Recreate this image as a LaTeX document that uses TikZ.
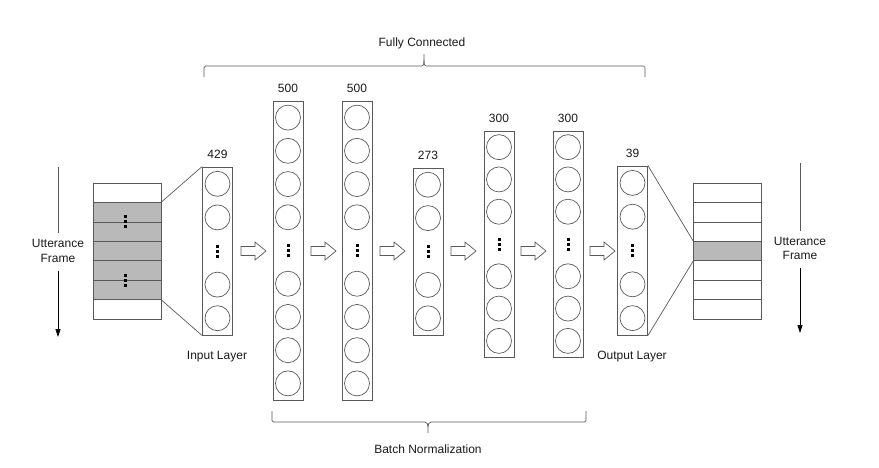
\documentclass[tikz,border=0pt]{standalone}
\usepackage{fontspec}
\setmainfont{Liberation Sans}
\usetikzlibrary{arrows.meta,calc}
\definecolor{linegray}{gray}{0.35}
\definecolor{rowgray}{RGB}{185,185,185}
\definecolor{txt}{gray}{0.1}
\begin{document}
\begin{tikzpicture}[x=1pt,y=-1pt,
  font=\fontsize{12}{14.5}\selectfont,
  layer/.style={draw=linegray, line width=0.9pt, minimum width=30pt, inner sep=0pt},
  neuron/.style={circle, draw=linegray, line width=0.7pt, minimum size=25pt, inner sep=0pt},
  lbl/.style={text=txt, inner sep=0pt},
  framerow/.style={draw=linegray, line width=0.7pt, minimum width=68pt, minimum height=19.43pt, inner sep=0pt},
  conn/.style={draw=linegray, line width=0.7pt},
  bracepath/.style={draw=linegray, line width=0.7pt, rounded corners=1.5pt},
  vdots/.pic={\foreach \d in {-5,0,5} \fill[black] (-1.5,\d-1.5) rectangle ++(3,3);},
  harrow/.pic={\draw[linegray, line width=0.7pt, fill=white] (0,-4.5) -- (14,-4.5) -- (14,-9) -- (25,0) -- (14,9) -- (14,4.5) -- (0,4.5) -- cycle;}
]
\useasboundingbox (0,0) rectangle (879,467);

% frame stacks
\foreach \i in {1,...,7}{
  \ifnum\i>1 \ifnum\i<7
    \node[framerow, fill=rowgray] (fl-\i) at (127,{183+(\i-0.5)*19.43}) {};
  \else
    \node[framerow] (fl-\i) at (127,{183+(\i-0.5)*19.43}) {};
  \fi\else
    \node[framerow] (fl-\i) at (127,{183+(\i-0.5)*19.43}) {};
  \fi
  \ifnum\i=4
    \node[framerow, fill=rowgray] (fr-\i) at (727.5,{183+(\i-0.5)*19.43}) {};
  \else
    \node[framerow] (fr-\i) at (727.5,{183+(\i-0.5)*19.43}) {};
  \fi
}
\pic at (125,221.5) {vdots};
\pic at (125,280) {vdots};

% layers
\foreach \nm/\cx/\tp/\bt/\ns/\lab in {in/217.5/167/335/5/429, a/288/101/400/9/500, b/357/101/400/9/500, c/428/168/335/5/273, d/499/131/357/7/300, e/568/131/357/7/300, o/632.5/166/335/5/39}{
  \pgfmathsetmacro{\cy}{(\tp+\bt)/2}
  \pgfmathsetmacro{\hh}{\bt-\tp}
  \pgfmathsetmacro{\slot}{\hh/\ns}
  \pgfmathtruncatemacro{\md}{(\ns+1)/2}
  \node[layer, minimum height=\hh pt] (\nm) at (\cx,\cy) {};
  \node[lbl, anchor=base] (\nm-lab) at (\cx,\tp-8.5) {\lab};
  \foreach \i in {1,...,\ns}{
    \ifnum\i=\md
      \pic at (\cx,{\tp+(\i-0.5)*\slot}) {vdots};
    \else
      \node[neuron] (\nm-\i) at (\cx,{\tp+(\i-0.5)*\slot}) {};
    \fi
  }
}

% fan-in / fan-out lines
\draw[conn] (fl-2.north east) -- (in.north west);
\draw[conn] (fl-6.south east) -- (in.south west);
\draw[conn] (o.north east) -- (fr-4.north west);
\draw[conn] (o.south east) -- (fr-4.south west);

% hollow arrows
\foreach \x in {241,311,380,451,521,590} \pic at (\x,251) {harrow};

% layer names
\node[lbl] (inname) at (217,357) {Input Layer};
\node[lbl] (outname) at (632,357) {Output Layer};

% utterance frame arrows
\node[lbl, align=center] (utl) at (58,251) {Utterance\\Frame};
\coordinate (utl-top) at (58,167);
\coordinate (utl-bot) at (58,337);
\draw[conn] (utl-top) -- ([yshift=6pt]utl.north);
\draw[conn, -{Triangle[length=8pt,width=5pt]}, draw=black] ([yshift=-8pt]utl.south) -- (utl-bot);

\node[lbl, align=center] (utr) at (800,248.5) {Utterance\\Frame};
\coordinate (utr-top) at (800,163);
\coordinate (utr-bot) at (800,333);
\draw[conn] (utr-top) -- ([yshift=6pt]utr.north);
\draw[conn, -{Triangle[length=8pt,width=5pt]}, draw=black] ([yshift=-8pt]utr.south) -- (utr-bot);

% braces
\draw[bracepath] (204,77) -- (204,66) -- (421.5,66);
\draw[conn] (421.5,66) to[out=0,in=-90] (424,60) -- (424,54);
\draw[conn] (424,60) to[out=-90,in=180] (426.5,66);
\draw[bracepath] (426.5,66) -- (645,66) -- (645,77);
\node[lbl] (fc) at (422,43) {Fully Connected};

\draw[bracepath] (272,411) -- (272,422) -- (425,422);
\draw[conn] (425,422) to[out=0,in=90] (428,427) -- (428,433);
\draw[conn] (428,427) to[out=90,in=180] (431,422);
\draw[bracepath] (431,422) -- (586,422) -- (586,411);
\node[lbl] (bn) at (428,449) {Batch Normalization};
\end{tikzpicture}
\end{document}
